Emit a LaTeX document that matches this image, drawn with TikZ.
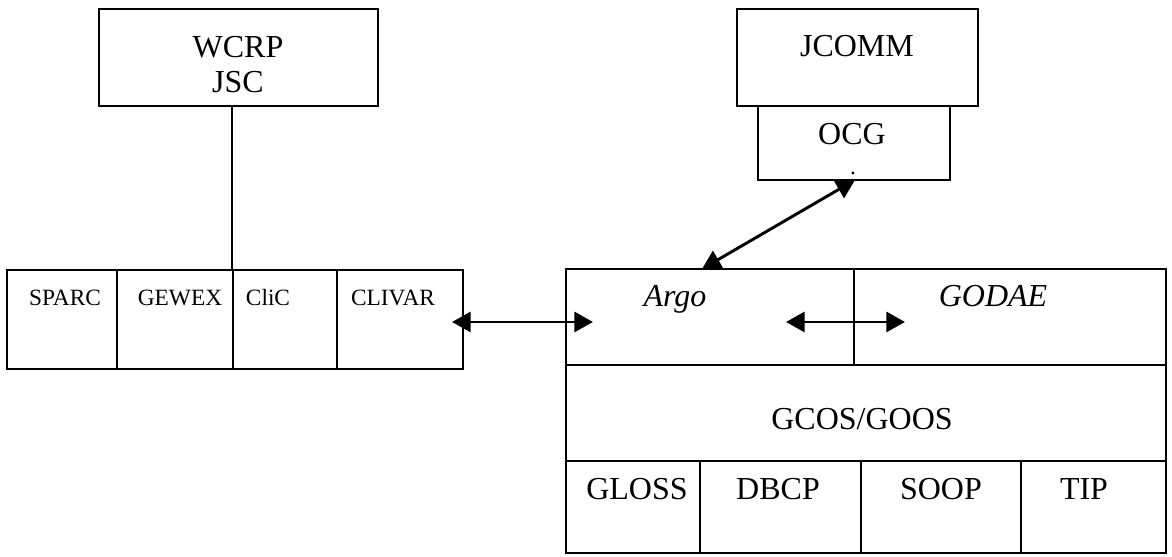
\documentclass[tikz,border=0pt]{standalone}
\usepackage{fontspec}
\setmainfont{Liberation Serif}
\usetikzlibrary{fit,arrows.meta}

\tikzset{
  box/.style={draw, line width=0.75pt, inner sep=0pt},
  big/.style={inner sep=0pt, anchor=base, font=\fontsize{12}{14}\selectfont},
  small/.style={inner sep=0pt, anchor=base, font=\fontsize{8.75}{10}\selectfont},
  link/.style={line width=1.1pt, {Triangle[length=7pt,width=7.5pt]}-{Triangle[length=7pt,width=7.5pt]}}
}

\begin{document}
\begin{tikzpicture}[x=0.375pt, y=-0.375pt]
  \useasboundingbox (0,0) rectangle (1172,557);
  % boxes
  \node[box, fit={(99,9) (378,106)}] (wcrp) {};
  \node[box, fit={(737,9) (978,106)}] (jcomm) {};
  \node[box, fit={(758,106) (950,180)}] (ocg) {};
  \node[box, fit={(7,270) (117,369)}] (sparc) {};
  \node[box, fit={(117,270) (233,369)}] (gewex) {};
  \node[box, fit={(233,270) (337,369)}] (clic) {};
  \node[box, fit={(337,270) (463,369)}] (clivar) {};
  \node[box, fit={(566,269) (854,365)}] (argo) {};
  \node[box, fit={(854,269) (1166,365)}] (godae) {};
  \node[box, fit={(566,365) (1166,461)}] (gcos) {};
  \node[box, fit={(566,461) (700,553)}] (gloss) {};
  \node[box, fit={(700,461) (861,553)}] (dbcp) {};
  \node[box, fit={(861,461) (1021,553)}] (soop) {};
  \node[box, fit={(1021,461) (1166,553)}] (tip) {};
  % labels
  \draw
    (238,58) node[big] (wcrplbl) {WCRP}
    (238,93) node[big] (jsclbl) {JSC}
    (857,57) node[big] (jcommlbl) {JCOMM}
    (852,145) node[big] (ocglbl) {OCG}
    (853,175) node[small] (ocgdot) {.}
    (65,306) node[small] (sparclbl) {SPARC}
    (180,306) node[small] (gewexlbl) {GEWEX}
    (268,306) node[small] (cliclbl) {CliC}
    (393,306) node[small] (clivarlbl) {CLIVAR}
    (675,307) node[big] (argolbl) {\itshape Argo}
    (993,307) node[big] (godaelbl) {\itshape GODAE}
    (862,430) node[big] (gcoslbl) {GCOS/GOOS}
    (637,500) node[big] (glosslbl) {GLOSS}
    (778,500) node[big] (dbcplbl) {DBCP}
    (941,500) node[big] (sooplbl) {SOOP}
    (1084,500) node[big] (tiplbl) {TIP};
  % arrow ends
  \coordinate (clivarend) at (452,322);
  \coordinate (argoleft) at (593,322);
  \coordinate (argoright) at (786,322);
  \coordinate (godaeleft) at (905,322);
  \coordinate (argotop) at (702,269);
  \coordinate (ocgbottom) at (855,180);
  \begin{scope}[-]
    \draw[line width=0.75pt] (clic.north west) -- (clic.north west |- wcrp.south);
  \end{scope}
  \begin{scope}[link]
    \draw (clivarend) to (argoleft);
    \draw (argoright) to (godaeleft);
    \draw (argotop) to (ocgbottom);
  \end{scope}
\end{tikzpicture}
\end{document}
